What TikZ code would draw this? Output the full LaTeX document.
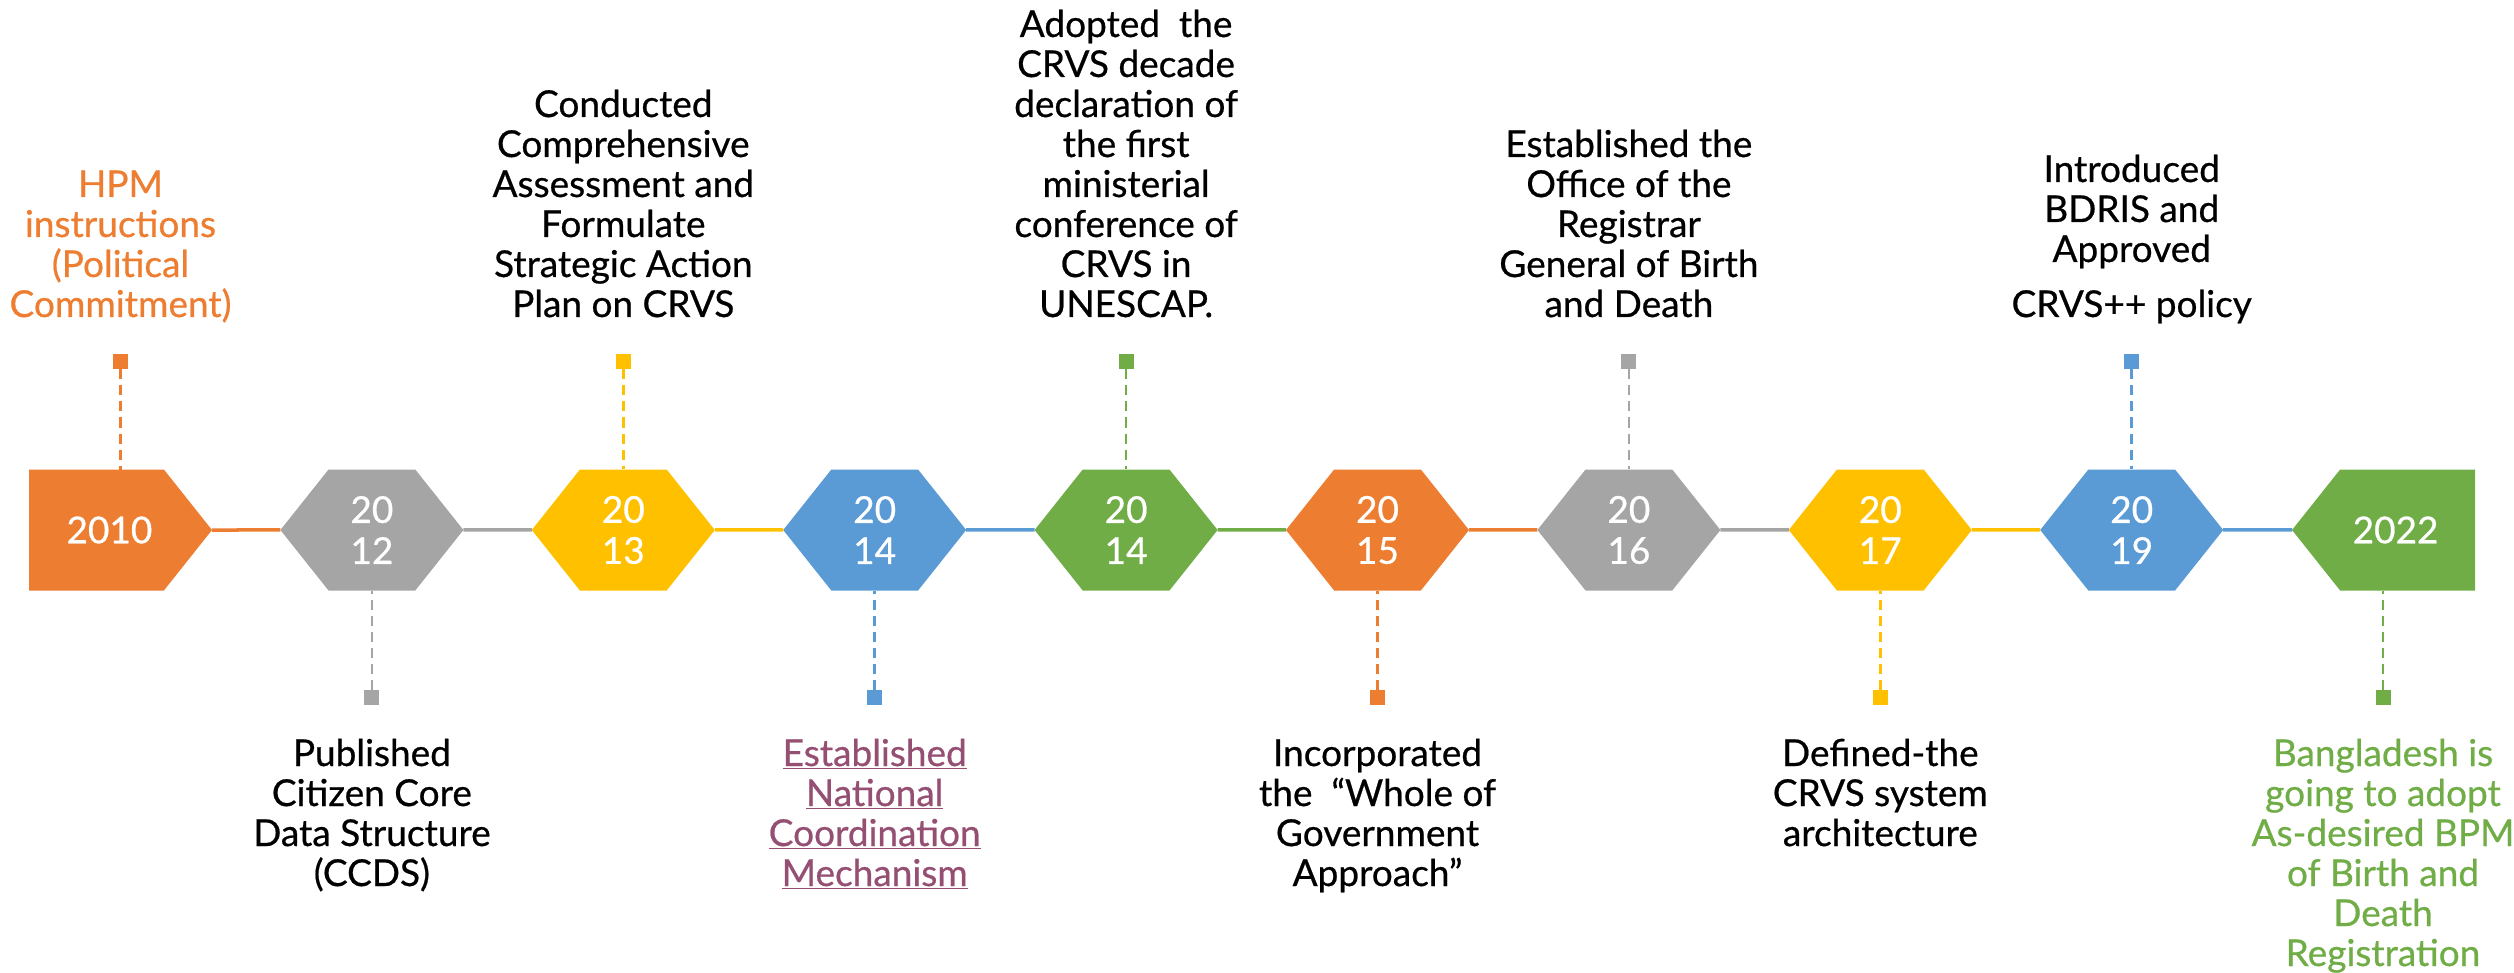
\documentclass[tikz,border=0pt]{standalone}
\usepackage{fontspec}
\setmainfont{Lato}[FakeBold=0.6]
\usetikzlibrary{shapes.symbols}
\definecolor{orng}{HTML}{ED7D31}
\definecolor{gry}{HTML}{A5A5A5}
\definecolor{yel}{HTML}{FFC000}
\definecolor{blu}{HTML}{5B9BD5}
\definecolor{grn}{HTML}{70AD47}
\definecolor{mauve}{HTML}{954F72}
\tikzset{
  hexa/.style={signal, signal to=east and west, signal pointer angle=103,
    minimum width=183pt, minimum height=121pt, inner sep=0pt, outer sep=0pt,
    text=white, align=center, font=\fontsize{37}{41}\selectfont},
  sq/.style={minimum size=15pt, inner sep=0pt, outer sep=0pt},
  lbl/.style={align=center, inner sep=0pt, anchor=base, font=\fontsize{37}{40}\selectfont},
  tie/.style={line width=2.5pt, dash pattern=on 10pt off 6pt},
  link/.style={line width=3.5pt}
}
\begin{document}
\begin{tikzpicture}[x=1pt,y=-1pt]
          \useasboundingbox (0,0) rectangle (2514,973);
          % years
          \node[hexa, signal to=east, fill=orng, anchor=east] at (212,530) (10) {\kern26pt2010};
          \node[hexa, fill=gry] at (371.9,530) (12) {20\\12};
          \node[hexa, fill=yel] at (623.3,530) (13) {20\\13};
          \node[hexa, fill=blu] at (874.7,530) (14a) {20\\14};
          \node[hexa, fill=grn] at (1126.1,530) (14b) {20\\14};
          \node[hexa, fill=orng] at (1377.5,530) (15) {20\\15};
          \node[hexa, fill=gry] at (1628.9,530) (16) {20\\16};
          \node[hexa, fill=yel] at (1880.3,530) (17) {20\\17};
          \node[hexa, fill=blu] at (2131.7,530) (19) {20\\19};
          \node[hexa, signal to=west, fill=grn, anchor=west] at (2292,530) (22) {2022\kern24pt};
          \path[link, orng] (10) edge (12);
          \path[link, gry] (12) edge (13);
          \path[link, yel] (13) edge (14a);
          \path[link, blu] (14a) edge (14b);
          \path[link, grn] (14b) edge (15);
          \path[link, orng] (15) edge (16);
          \path[link, gry] (16) edge (17);
          \path[link, yel] (17) edge (19);
          \path[link, blu] (19) edge (22);
          % markers above
          \node[sq, fill=orng] at (120.5,362) (m10) {};
          \node[sq, fill=yel] at (623.3,362) (m13) {};
          \node[sq, fill=grn] at (1126.1,362) (m14b) {};
          \node[sq, fill=gry] at (1628.9,362) (m16) {};
          \node[sq, fill=blu] at (2131.7,362) (m19) {};
          \path[tie, orng] (m10) edge (m10 |- 10.north);
          \path[tie, yel] (m13) edge (13);
          \path[tie, grn] (m14b) edge (14b);
          \path[tie, gry] (m16) edge (16);
          \path[tie, blu] (m19) edge (19);
          % markers below
          \node[sq, fill=gry] at (371.9,697) (m12) {};
          \node[sq, fill=blu] at (874.7,697) (m14a) {};
          \node[sq, fill=orng] at (1377.5,697) (m15) {};
          \node[sq, fill=yel] at (1880.3,697) (m17) {};
          \node[sq, fill=grn] at (2383,697) (m22) {};
          \path[tie, gry] (m12) edge (12);
          \path[tie, blu] (m14a) edge (14a);
          \path[tie, orng] (m15) edge (15);
          \path[tie, yel] (m17) edge (17);
          \path[tie, grn] (m22) edge (m22 |- 22.south);
          % labels above
          \node[lbl, text=orng] at (120.5,317) (l10) {HPM\\instructions\\(Political\\Commitment)};
          \node[lbl] at (623.3,317) (l13) {Conducted\\Comprehensive\\Assessment and\\Formulate\\Strategic Action\\Plan on CRVS};
          \node[lbl] at (1126.1,317) (l14b) {Adopted~ the\\CRVS decade\\declaration of\\the first\\ministerial\\conference of\\CRVS in\\UNESCAP.};
          \node[lbl] at (1628.9,317) (l16) {Established the\\Office of the\\Registrar\\General of Birth\\and Death};
          \node[lbl] at (2131.7,317) (l19) {Introduced\\BDRIS and\\Approved\\[15pt]CRVS++ policy};
          % labels below
          \node[lbl] at (371.9,886) (l12) {Published\\Citizen Core\\Data Structure\\(CCDS)};
          \node[lbl, text=mauve] at (874.7,886) (l14a) {\underline{Established}\\\underline{National}\\\underline{Coordination}\\\underline{Mechanism}};
          \node[lbl] at (1377.5,886) (l15) {Incorporated\\the~ “Whole of\\Government\\Approach”};
          \node[lbl] at (1880.3,846) (l17) {Defined-the\\CRVS system\\architecture};
          \node[lbl, text=grn] at (2383,966) (l22) {Bangladesh is\\going to adopt\\As-desired BPM\\of Birth and\\Death\\Registration};
        \end{tikzpicture}
\end{document}
